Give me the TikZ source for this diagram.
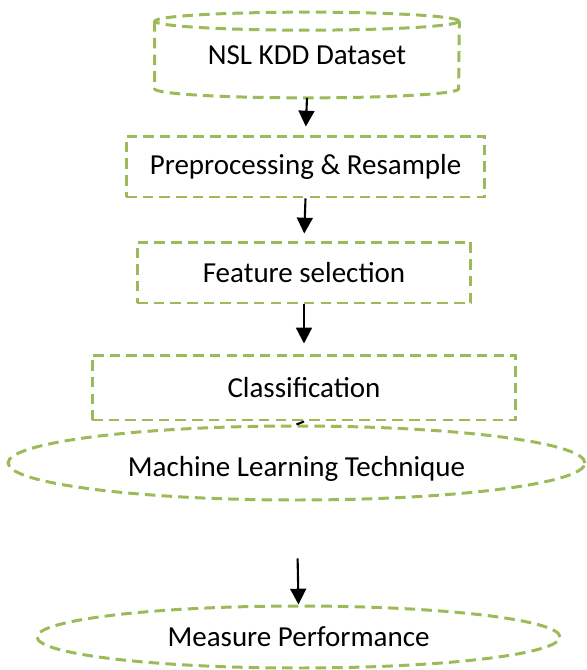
\documentclass[tikz,border=0pt]{standalone}
\usepackage{fontspec}
\setmainfont{Carlito}
\usepackage{tikz}
\usetikzlibrary{positioning}
\usetikzlibrary{shapes.geometric}
\usetikzlibrary{arrows.meta}

\definecolor{dashgreen}{HTML}{9BBB59}

\begin{document}
\begin{tikzpicture}[x=0.02cm, y=-0.02cm,
    every node/.style={font=\fontsize{16.5}{19}\selectfont, inner sep=0pt},
    dashline/.style={draw=dashgreen, line width=1.7pt, dash pattern=on 6pt off 3.5pt},
    dashbox/.style={dashline, rectangle},
    dashell/.style={dashline, ellipse},
    arr/.style={-{Triangle[length=9pt,width=9pt]}, line width=1.2pt}]
              \useasboundingbox (0,0) rectangle (586,670);
              % Nodes
              \node[minimum width=6.08cm, minimum height=1.7cm] (data) at (307,55) {NSL KDD Dataset};
              \node[dashbox, minimum width=7.18cm, minimum height=1.22cm] (prep) at (305.5,166.5) {Preprocessing \& Resample};
              \node[dashbox, minimum width=6.68cm, minimum height=1.22cm] (feat) at (304,272.5) {Feature selection};
              \node[dashbox, minimum width=8.48cm, minimum height=1.3cm] (cls) at (304,387.5) {Classification};
              \node[dashell, minimum width=11.54cm, minimum height=1.48cm] (ml) at (296.5,463) {\raisebox{-2pt}[\height][0pt]{Machine Learning Technique}};
              \node[dashell, minimum width=10.46cm, minimum height=1.24cm] (mp) at (298.5,637) {Measure Performance};

              % Cylinder outline
              \draw[dashline] ([yshift=-0.18cm]data.north) ellipse [x radius=3.04cm, y radius=0.18cm];
              \draw[dashline] ([yshift=-0.18cm]data.north west) -- ([yshift=0.18cm]data.south west)
                arc[start angle=180, end angle=360, x radius=3.04cm, y radius=0.18cm]
                -- ([yshift=-0.18cm]data.north east);

              % Arrows
              \draw[arr, shorten >=0.16cm] (data.south) -- (prep.north);
              \draw[arr, shorten >=0.14cm] (prep.south) -- (feat.north);
              \draw[arr, shorten >=0.2cm] (feat.south) -- (cls.north);
              \draw[line width=1.2pt] (cls.south) -- (ml.north);
              \draw[arr, shorten <=1.14cm] (ml.south) -- (mp.north);
            \end{tikzpicture}
\end{document}
